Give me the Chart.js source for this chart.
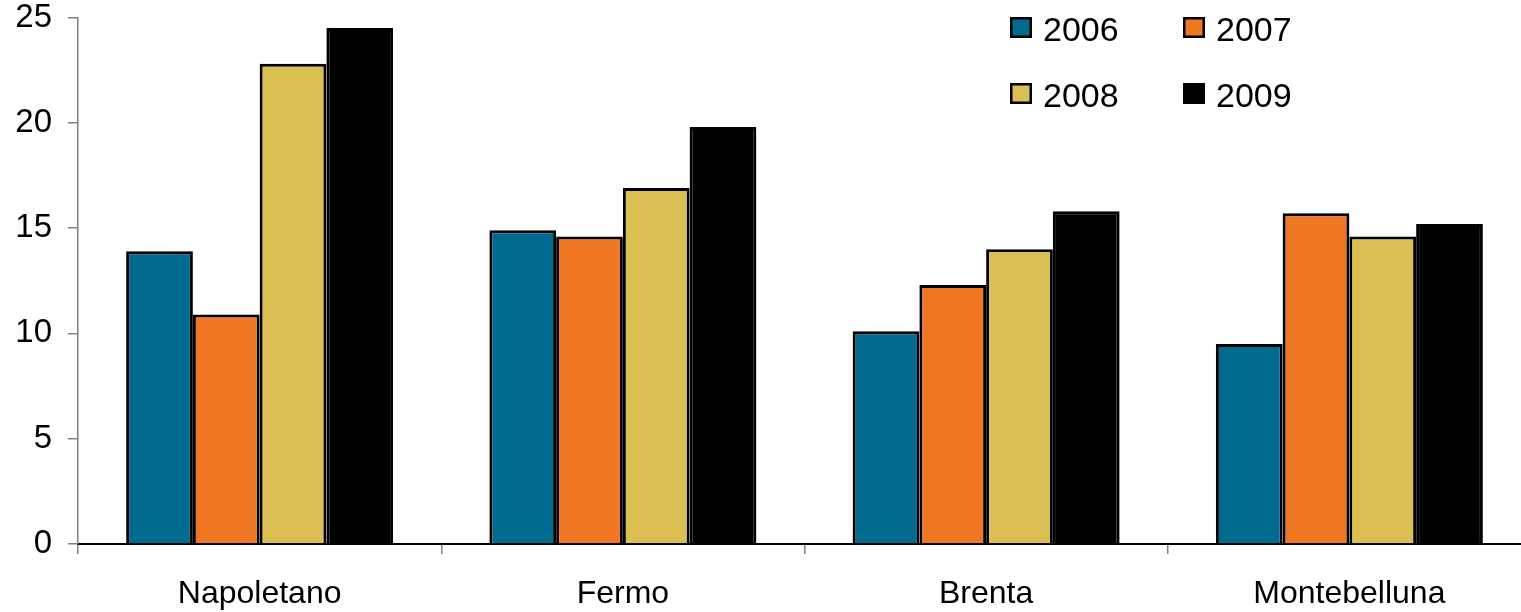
<!DOCTYPE html>
<html>
<head>
<meta charset="utf-8">
<script src="https://cdn.jsdelivr.net/npm/chart.js@4/dist/chart.umd.min.js"></script>
<style>
  html, body { margin: 0; padding: 0; background: #fff; overflow: hidden; }
  #wrap { position: relative; width: 1545px; height: 612px; }
</style>
</head>
<body>
<div id="wrap"><canvas id="c"></canvas></div>
<script>
// Districts and yearly values
const districts = ['Napoletano', 'Fermo', 'Brenta', 'Montebelluna'];
const years = ['2006', '2007', '2008', '2009'];
const values2006 = [13.9, 14.9, 10.1, 9.5];
const values2007 = [10.9, 14.6, 12.3, 15.7];
const values2008 = [22.8, 16.9, 14.0, 14.6];
const values2009 = [24.5, 19.8, 15.8, 15.2];
const yTicks = [0, 5, 10, 15, 20, 25];

const seriesValues = [values2006, values2007, values2008, values2009];
const fills = ['#006A8F', '#EF7623', '#DBBF52', '#000000'];
const FONT = '"Liberation Sans", Arial, sans-serif';

// Two-column legend drawn in the top right corner
const gridLegend = {
  id: 'gridLegend',
  afterDraw(chart) {
    const ctx = chart.ctx;
    const colX = [1010, 1183];
    const rowTop = [17, 83];
    ctx.save();
    ctx.font = '34px ' + FONT;
    ctx.textBaseline = 'middle';
    ctx.textAlign = 'left';
    chart.data.datasets.forEach((ds, i) => {
      const x = colX[i % 2];
      const y = rowTop[Math.floor(i / 2)];
      ctx.fillStyle = ds.backgroundColor;
      ctx.fillRect(x, y, 22, 21);
      ctx.lineWidth = 2.5;
      ctx.strokeStyle = '#000';
      ctx.strokeRect(x + 1.25, y + 1.25, 19.5, 18.5);
      ctx.fillStyle = '#000';
      ctx.fillText(ds.label, x + 33, y + 15);
    });
    ctx.restore();
  }
};

new Chart(document.getElementById('c'), {
  type: 'bar',
  data: {
    labels: districts,
    datasets: years.map((y, i) => ({
      label: y,
      data: seriesValues[i],
      backgroundColor: fills[i],
      borderColor: '#000',
      borderWidth: 3,
      borderSkipped: 'bottom',
      categoryPercentage: 0.735,
      barPercentage: 1.0
    }))
  },
  plugins: [gridLegend],
  options: {
    responsive: true,
    maintainAspectRatio: false,
    animation: false,
    layout: { padding: { top: 17.5, right: 14, left: 0, bottom: 0 } },
    plugins: {
      legend: { display: false },
      tooltip: { enabled: false }
    },
    scales: {
      x: {
        offset: true,
        grid: {
          offset: true,
          drawOnChartArea: false,
          drawTicks: true,
          tickLength: 10,
          color: '#808080',
          lineWidth: 1.5
        },
        border: { display: true, color: '#000', width: 2 },
        ticks: {
          color: '#000',
          padding: 21,
          maxRotation: 0,
          font: { family: FONT, size: 32, lineHeight: 1.2 }
        },
        afterFit(scale) { scale.height = 68; }
      },
      y: {
        min: 0,
        max: 25,
        afterBuildTicks(scale) { scale.ticks = yTicks.map(v => ({ value: v })); },
        grid: {
          drawOnChartArea: false,
          drawTicks: true,
          tickLength: 10,
          color: '#808080',
          lineWidth: 1.5
        },
        border: { display: true, color: '#808080', width: 1.5 },
        ticks: {
          color: '#000',
          padding: 16,
          font: { family: FONT, size: 33, lineHeight: 1 }
        },
        afterFit(scale) {
          scale.width = 78;
          scale.paddingTop = 0;
          scale.paddingBottom = 0;
        }
      }
    }
  }
});
</script>
</body>
</html>
